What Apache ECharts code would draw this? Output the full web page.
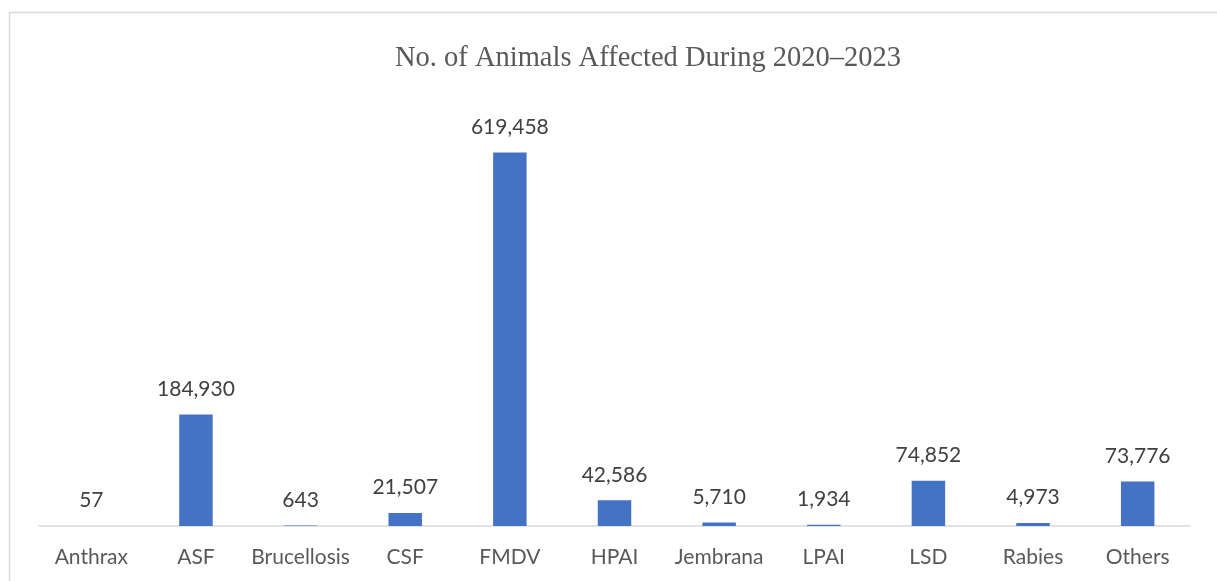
<!DOCTYPE html>
<html lang="en">
<head>
    <meta charset="UTF-8">
    <script src="https://cdn.jsdelivr.net/npm/echarts@6/dist/echarts.min.js"></script>
    <title>Animals Affected</title>
    <style>
        html, body { margin: 0; padding: 0; background: #fff; }
    </style>
</head>
<body>
    <div id="main" style="width: 1217px; height: 581px;"></div>
    <script>
        // data
        var diseases = ['Anthrax', 'ASF', 'Brucellosis', 'CSF', 'FMDV', 'HPAI', 'Jembrana', 'LPAI', 'LSD', 'Rabies', 'Others'];
        var affected = [57, 184930, 643, 21507, 619458, 42586, 5710, 1934, 74852, 4973, 73776];
        var chartTitle = 'No. of Animals Affected During 2020\u20132023';

        var myChart = echarts.init(document.getElementById('main'));

        var option = {
            animation: false,
            title: {
                text: chartTitle,
                left: 643,
                top: 39,
                textAlign: 'center',
                textStyle: {
                    fontFamily: '"Liberation Serif", serif',
                    fontWeight: 'normal',
                    fontSize: 28.5,
                    color: '#595959'
                }
            },
            graphic: [{
                type: 'rect',
                shape: { x: 9.5, y: 12.5, width: 1300, height: 700 },
                style: { fill: 'none', stroke: '#d9d9d9', lineWidth: 1.5 },
                silent: true
            }],
            grid: {
                left: 39,
                right: 27,
                top: 104,
                bottom: 55
            },
            xAxis: {
                type: 'category',
                data: diseases,
                axisLine: { lineStyle: { color: '#d9d9d9', width: 1.5 } },
                axisTick: { show: false },
                axisLabel: {
                    margin: 21,
                    fontFamily: 'Lato, sans-serif',
                    fontSize: 21,
                    color: '#595959',
                    interval: 0
                }
            },
            yAxis: {
                type: 'value',
                min: 0,
                max: 700000,
                show: false,
                splitLine: { show: false }
            },
            series: [{
                type: 'bar',
                data: affected,
                barWidth: '32%',
                itemStyle: { color: '#4472C4' },
                label: {
                    show: true,
                    position: 'top',
                    distance: 15,
                    fontFamily: 'Lato, sans-serif',
                    fontSize: 21,
                    color: '#404040',
                    formatter: function (p) {
                        return p.value.toLocaleString('en-US');
                    }
                }
            }]
        };
        myChart.setOption(option);
    </script>
</body>
</html>
